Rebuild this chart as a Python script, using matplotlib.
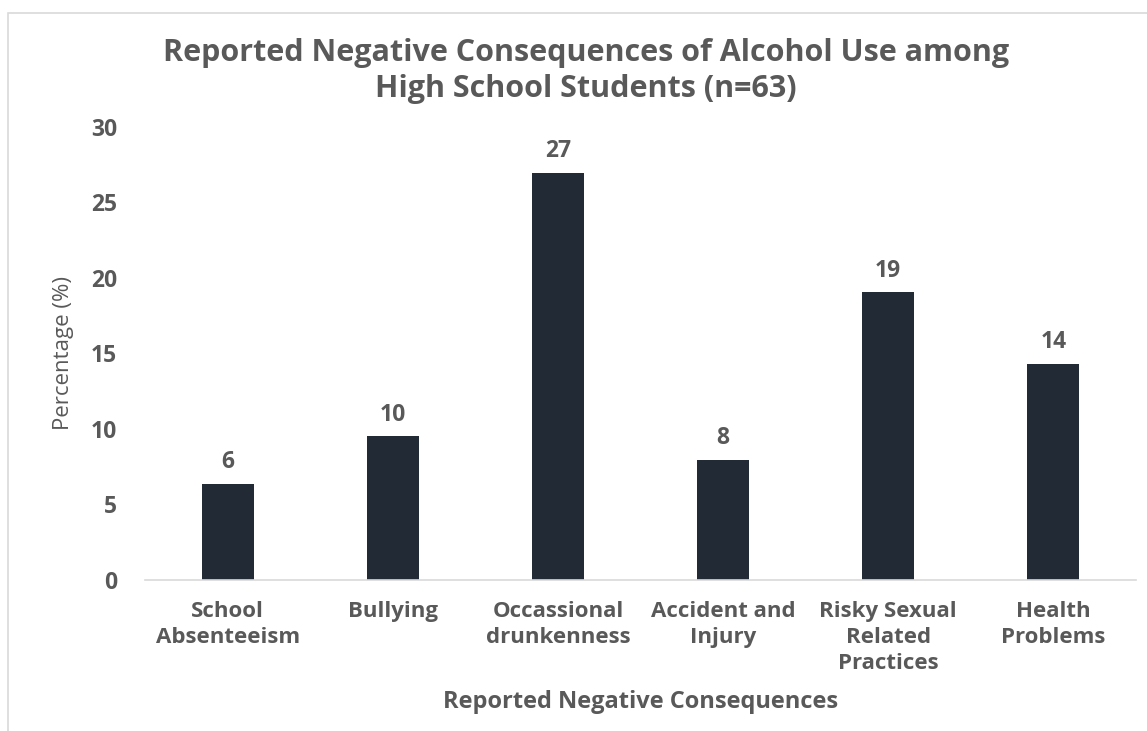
import matplotlib
matplotlib.use('Agg')
import matplotlib.pyplot as plt
from matplotlib.patches import Rectangle

matplotlib.rcParams['font.family'] = 'Open Sans'

# Share of students (n=63) reporting each consequence, in percent
categories = ['School\nAbsenteeism', 'Bullying', 'Occassional\ndrunkenness',
              'Accident and\nInjury', 'Risky Sexual\nRelated\nPractices', 'Health\nProblems']
percentages = [6.35, 9.52, 26.98, 7.94, 19.05, 14.29]
y_ticks = [0, 5, 10, 15, 20, 25, 30]

TEXT = '#595959'
BAR = '#222a35'

fig = plt.figure(figsize=(11.47, 7.31), dpi=100)
ax = fig.add_axes([0.1264, 0.2066, 0.864, 0.6197])

x = range(len(categories))
bars = ax.bar(x, percentages, width=0.315, color=BAR, zorder=2)

for rect, v in zip(bars, percentages):
    ax.annotate(f'{v:.0f}', (rect.get_x() + rect.get_width() / 2, v),
                xytext=(0, 7), textcoords='offset points',
                ha='center', va='bottom', fontsize=16.5, fontweight='bold', color=TEXT)

ax.set_xlim(-0.5, len(categories) - 0.5)
ax.set_ylim(0, 30)
ax.set_yticks(y_ticks)
ax.set_xticks(list(x))
ax.set_xticklabels(categories, fontsize=16, fontweight='bold', color=TEXT, linespacing=1.33)
ax.tick_params(axis='y', length=0, pad=20, labelsize=16.5, labelcolor=TEXT)
ax.tick_params(axis='x', length=0, pad=15)
for lbl in ax.get_yticklabels():
    lbl.set_fontweight('bold')

for side in ['top', 'right', 'left']:
    ax.spines[side].set_visible(False)
ax.spines['bottom'].set_color('#d9d9d9')
ax.spines['bottom'].set_linewidth(1.2)

ax.set_ylabel('Percentage (%)', fontsize=16, color=TEXT)
ax.yaxis.set_label_coords(-0.072, 0.5)
ax.set_xlabel('Reported Negative Consequences', fontsize=17, fontweight='bold',
              color=TEXT, labelpad=11)

fig.suptitle('Reported Negative Consequences of Alcohol Use among\nHigh School Students (n=63)',
             x=0.511, y=0.948, fontsize=22, fontweight='bold', color=TEXT, linespacing=1.25)

# Light frame around the chart area
fig.add_artist(Rectangle((0.007, -0.05), 1.1, 1.032, transform=fig.transFigure,
                         fill=False, edgecolor='#d9d9d9', linewidth=1.2))

fig.savefig('out.png', dpi=100, facecolor='white')
